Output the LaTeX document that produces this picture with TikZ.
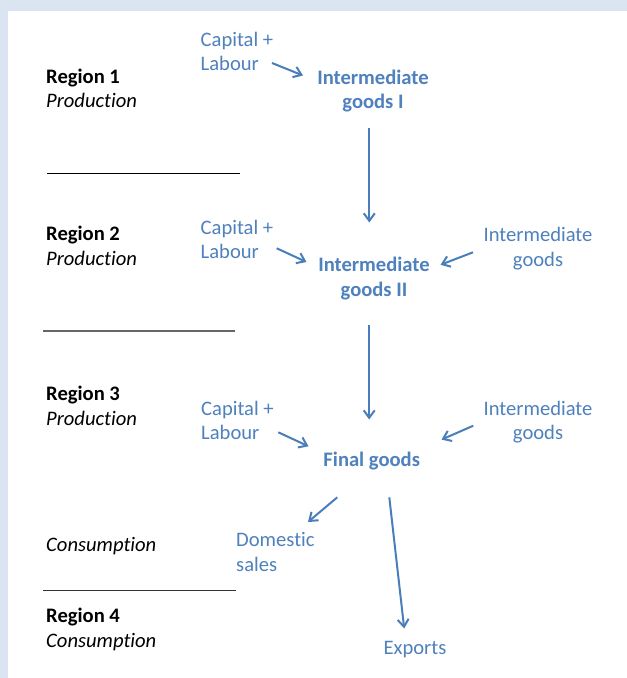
\documentclass[tikz,border=0pt]{standalone}
\usepackage{fontspec}
\setmainfont{Carlito}[Ligatures=NoCommon]
\usetikzlibrary{arrows.meta}
\definecolor{bgband}{HTML}{DBE5F1}
\definecolor{txtblue}{HTML}{4F81BD}
\definecolor{arrblue}{HTML}{4A7EBB}
\tikzset{
  lbl/.style={inner sep=0pt, font=\fontsize{20.6pt}{24.6pt}\selectfont, align=left, anchor=base west, text=black},
  blue/.style={inner sep=0pt, font=\fontsize{20.6pt}{24.6pt}\selectfont, text=txtblue},
  bluel/.style={blue, align=left, anchor=base west},
  bluec/.style={blue, align=center, anchor=base},
  bluecb/.style={bluec, font=\fontsize{20.6pt}{24.6pt}\selectfont\bfseries},
  arr/.style={draw=arrblue, line width=2pt, -{Straight Barb[length=7.5pt,width=11pt]}},
  sep/.style={draw=black}
}
\begin{document}
\begin{tikzpicture}[x=1pt,y=-1pt]
\useasboundingbox (0,0) rectangle (627,678);
\fill[bgband] (0,0) rectangle (627,678);
\fill[white] (7.5,10.7) rectangle (627,678);

% left labels (base anchor = baseline of last line)
\node[lbl] (r1) at (46,107.9) {\textbf{Region 1}\\\textit{Production}};
\node[lbl] (r2) at (46,265.3) {\textbf{Region 2}\\\textit{Production}};
\node[lbl] (r3) at (46,425.3) {\textbf{Region 3}\\\textit{Production}};
\node[lbl] (c1) at (46,551) {\textit{Consumption}};
\node[lbl] (r4) at (46,647.5) {\textbf{Region 4}\\\textit{Consumption}};

% separators
\coordinate (s1a) at (47,173.3); \coordinate (s1b) at (239.5,173.3);
\coordinate (s2a) at (43,331.2); \coordinate (s2b) at (235,331.2);
\coordinate (s3a) at (43,590.5); \coordinate (s3b) at (235.5,590.5);
\draw[sep, line width=0.9pt] (s1a) -- (s1b);
\draw[sep, draw=black!60, line width=1.6pt] (s2a) -- (s2b);
\draw[sep, draw=black!80, line width=1pt] (s3a) -- (s3b);

% blue texts
\node[bluel] (cl1) at (200.5,70.6) {Capital +\\Labour};
\node[bluel] (cl2) at (200.5,258.6) {Capital +\\Labour};
\node[bluel] (cl3) at (201,439.6) {Capital +\\Labour};
\node[bluecb] (ig1) at (373,108.9) {Intermediate\\goods I};
\node[bluecb] (ig2) at (374,296.3) {Intermediate\\goods II};
\node[bluec] (im1) at (538,266.3) {Intermediate\\goods};
\node[bluec] (im2) at (538,439.6) {Intermediate\\goods};
\node[bluecb] (fg) at (371.7,466) {Final goods};
\node[bluel] (ds) at (236,571.5) {Domestic\\sales};
\node[bluec] (ex) at (415,654) {Exports};

% arrow end points
\coordinate (a1s) at (272,63); \coordinate (a1e) at (303,75.5);
\coordinate (v1s) at (369.3,128); \coordinate (v1e) at (369.3,222.5);
\coordinate (a2s) at (276.7,248.3); \coordinate (a2e) at (306.5,262);
\coordinate (b1s) at (473,252.3); \coordinate (b1e) at (440.5,264.8);
\coordinate (v2s) at (369.2,325); \coordinate (v2e) at (369.2,419.5);
\coordinate (a3s) at (278.3,432.3); \coordinate (a3e) at (308.5,446.3);
\coordinate (b2s) at (473.3,425.7); \coordinate (b2e) at (441.5,439.6);
\coordinate (d1s) at (337.3,497.3); \coordinate (d1e) at (308,522);
\coordinate (e1s) at (389.3,497.3); \coordinate (e1e) at (404.2,628.5);

\draw[arr] (a1s) -- (a1e);
\draw[arr] (v1s) -- (v1e);
\draw[arr] (a2s) -- (a2e);
\draw[arr] (b1s) -- (b1e);
\draw[arr] (v2s) -- (v2e);
\draw[arr] (a3s) -- (a3e);
\draw[arr] (b2s) -- (b2e);
\draw[arr] (d1s) -- (d1e);
\draw[arr] (e1s) -- (e1e);
\end{tikzpicture}
\end{document}
